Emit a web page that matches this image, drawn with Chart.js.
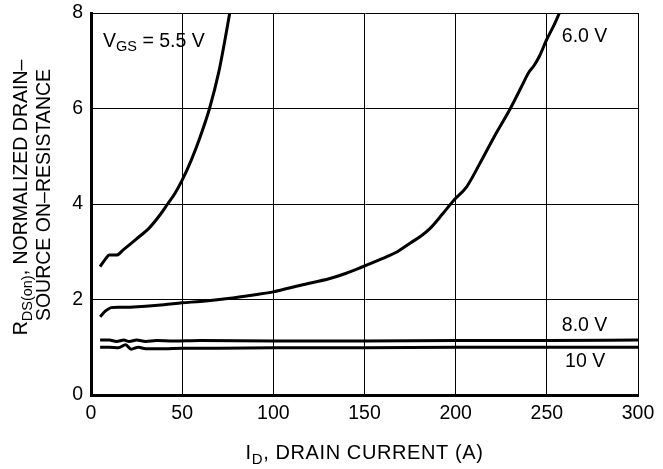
<!DOCTYPE html>
<html>
<head>
<meta charset="utf-8">
<script src="https://cdn.jsdelivr.net/npm/chart.js@4.4.1/dist/chart.umd.min.js"></script>
<style>
  html, body { margin: 0; padding: 0; background: #fff; }
</style>
</head>
<body>
<canvas id="chart" width="663" height="469"></canvas>
<script>
const FONT = '"Liberation Sans", Arial, Helvetica, sans-serif';

// Axis ticks
const xTicks = [0, 50, 100, 150, 200, 250, 300];
const yTicks = [0, 2, 4, 6, 8];

// V_GS = 5.5 V
const id55 = [5, 8, 10, 14, 18, 25, 32, 38, 42, 46, 50, 55, 60, 65, 70, 74, 77];
const r55 = [2.69, 2.85, 2.93, 2.93, 3.05, 3.27, 3.5, 3.78, 4.0, 4.22, 4.5, 4.92, 5.42, 6.0, 6.75, 7.55, 8.2];

// V_GS = 6.0 V
const id60 = [5, 8, 11, 15, 20, 30, 40, 50, 60, 75, 90, 100, 115, 131, 140, 148, 160, 168, 175, 181, 186, 193, 199, 206, 213, 221, 230, 236, 240, 243, 246, 250, 254, 258];
const r60 = [1.64, 1.76, 1.83, 1.84, 1.84, 1.86, 1.89, 1.93, 1.96, 2.02, 2.1, 2.16, 2.3, 2.44, 2.55, 2.67, 2.86, 3.0, 3.18, 3.33, 3.49, 3.8, 4.08, 4.36, 4.83, 5.4, 6.0, 6.45, 6.75, 6.9, 7.1, 7.45, 7.75, 8.1];

// V_GS = 8.0 V
const id80 = [5, 10, 14, 18, 21, 25, 30, 36, 45, 60, 100, 150, 200, 250, 300];
const r80 = [1.15, 1.15, 1.12, 1.15, 1.12, 1.15, 1.12, 1.14, 1.13, 1.14, 1.13, 1.13, 1.14, 1.14, 1.15];

// V_GS = 10 V
const id10 = [5, 10, 15, 19, 22, 26, 30, 40, 50, 70, 100, 150, 200, 250, 300];
const r10 = [1.0, 1.0, 0.99, 1.05, 0.96, 1.0, 0.97, 0.97, 0.98, 0.98, 0.99, 0.99, 1.0, 1.0, 1.0];

const pts = (xs, ys) => xs.map((x, i) => ({ x, y: ys[i] }));

function curve(xs, ys) {
  return {
    data: pts(xs, ys),
    borderColor: "#000",
    borderWidth: 3,
    pointRadius: 0,
    showLine: true,
    fill: false,
    cubicInterpolationMode: "monotone",
  };
}

// draw a row of text pieces (for subscripts)
function drawRuns(ctx, runs, x, y, align) {
  let w = 0;
  runs.forEach((r) => {
    ctx.font = `${r.size}px ${FONT}`;
    w += ctx.measureText(r.t).width;
  });
  let cx = align === "center" ? x - w / 2 : x;
  runs.forEach((r) => {
    ctx.font = `${r.size}px ${FONT}`;
    ctx.fillText(r.t, cx, y + (r.dy || 0));
    cx += ctx.measureText(r.t).width;
  });
}

const textPlugin = {
  id: "texts",
  afterDraw(chart) {
    const { ctx, chartArea, scales } = chart;
    const sx = scales.x, sy = scales.y;
    ctx.save();
    ctx.fillStyle = "#000";
    ctx.textBaseline = "alphabetic";
    ctx.textAlign = "left";

    // curve labels, anchored in data units
    drawRuns(ctx, [
      { t: "V", size: 19.5 },
      { t: "GS", size: 14.5, dy: 4 },
      { t: " = 5.5 V", size: 19.5 },
    ], sx.getPixelForValue(6.6), sy.getPixelForValue(7.29));
    drawRuns(ctx, [{ t: "6.0 V", size: 19.5 }], sx.getPixelForValue(258.2), sy.getPixelForValue(7.4));
    drawRuns(ctx, [{ t: "8.0 V", size: 19.5 }], sx.getPixelForValue(258.2), sy.getPixelForValue(1.33));
    drawRuns(ctx, [{ t: "10 V", size: 19.5 }], sx.getPixelForValue(260), sy.getPixelForValue(0.58));

    // x title
    const midX = (chartArea.left + chartArea.right) / 2;
    ctx.letterSpacing = "0.6px";
    drawRuns(ctx, [
      { t: "I", size: 20 },
      { t: "D", size: 15, dy: 5 },
      { t: ", DRAIN CURRENT (A)", size: 20 },
    ], midX, 459, "center");
    ctx.letterSpacing = "0px";

    // y title, two rotated lines
    ctx.save();
    ctx.translate(27, 197.5);
    ctx.rotate(-Math.PI / 2);
    drawRuns(ctx, [
      { t: "R", size: 19.5 },
      { t: "DS(on)", size: 14.5, dy: 5 },
      { t: ", NORMALIZED DRAIN\u2013", size: 19.5 },
    ], 0, 0, "center");
    ctx.restore();
    ctx.save();
    ctx.translate(50, 195);
    ctx.rotate(-Math.PI / 2);
    drawRuns(ctx, [{ t: "SOURCE ON\u2013RESISTANCE", size: 19.5 }], 0, 0, "center");
    ctx.restore();

    ctx.restore();
  },
};

new Chart(document.getElementById("chart"), {
  type: "scatter",
  data: {
    datasets: [curve(id55, r55), curve(id60, r60), curve(id80, r80), curve(id10, r10)],
  },
  options: {
    responsive: false,
    animation: false,
    devicePixelRatio: 1,
    layout: { padding: { top: 13, right: 25, left: 0, bottom: 0 } },
    plugins: { legend: { display: false }, tooltip: { enabled: false } },
    scales: {
      x: {
        type: "linear",
        min: 0,
        max: 300,
        afterFit: (s) => { s.height = 74; s.paddingLeft = 0; s.paddingRight = 0; },
        afterBuildTicks: (s) => { s.ticks = xTicks.map((v) => ({ value: v })); },
        ticks: { color: "#000", font: { family: FONT, size: 19.5 }, padding: 7, maxRotation: 0 },
        grid: { color: "#000", lineWidth: 1, drawTicks: false },
        border: { color: "#000", width: 3 },
      },
      y: {
        min: 0,
        max: 8,
        afterFit: (s) => { s.width = 91; s.paddingTop = 0; s.paddingBottom = 0; },
        afterBuildTicks: (s) => { s.ticks = yTicks.map((v) => ({ value: v })); },
        ticks: { color: "#000", font: { family: FONT, size: 19.5 }, padding: 8 },
        grid: { color: "#000", lineWidth: 1, drawTicks: false },
        border: { color: "#000", width: 3 },
      },
    },
  },
  plugins: [textPlugin],
});
</script>
</body>
</html>
